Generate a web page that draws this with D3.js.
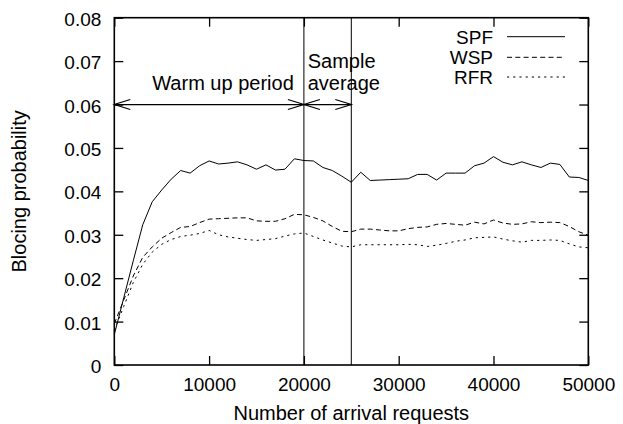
<!DOCTYPE html>
<html>
<head>
<meta charset="utf-8">
<script src="https://cdn.jsdelivr.net/npm/d3@7"></script>
<style>
  body { margin: 0; background: #fff; }
  svg text { font-family: "Liberation Sans", Arial, sans-serif; font-size: 19px; fill: #000; }
  svg text.big { font-size: 20px; }
</style>
</head>
<body>
<div id="chart"></div>
<script>
var svgWidth = 623;
var svgHeight = 424;

// arrival requests (x) and blocking probability per method
var requests = [0, 1000, 2000, 3000, 4000, 5000, 6000, 7000, 8000, 9000,
  10000, 11000, 12000, 13000, 14000, 15000, 16000, 17000, 18000, 19000,
  20000, 21000, 22000, 23000, 24000, 25000, 26000, 27000, 28000, 29000,
  30000, 31000, 32000, 33000, 34000, 35000, 36000, 37000, 38000, 39000,
  40000, 41000, 42000, 43000, 44000, 45000, 46000, 47000, 48000, 49000, 50000];

var spf = [0.0070, 0.0155, 0.0240, 0.0323, 0.0376, 0.0403, 0.0428, 0.0448, 0.0442, 0.0459,
  0.0470, 0.0463, 0.0465, 0.0468, 0.0461, 0.0451, 0.0461, 0.0449, 0.0451, 0.0475,
  0.0471, 0.0470, 0.0455, 0.0448, 0.0435, 0.0421, 0.0444, 0.0425, 0.0426, 0.0427,
  0.0428, 0.0429, 0.0439, 0.0439, 0.0426, 0.0442, 0.0442, 0.0442, 0.0459, 0.0465,
  0.0480, 0.0467, 0.0461, 0.0468, 0.0461, 0.0455, 0.0465, 0.0462, 0.0433, 0.0432, 0.0425];

var wsp = [0.0095, 0.0150, 0.0205, 0.0248, 0.0272, 0.0292, 0.0305, 0.0317, 0.0319, 0.0328,
  0.0336, 0.0337, 0.0338, 0.0339, 0.0339, 0.0332, 0.0331, 0.0331, 0.0337, 0.0347,
  0.0346, 0.0340, 0.0332, 0.0319, 0.0308, 0.0307, 0.0313, 0.0313, 0.0311, 0.0309,
  0.0309, 0.0314, 0.0317, 0.0318, 0.0324, 0.0326, 0.0324, 0.0322, 0.0329, 0.0325,
  0.0334, 0.0327, 0.0324, 0.0325, 0.0330, 0.0328, 0.0329, 0.0328, 0.0319, 0.0307, 0.0299];

var rfr = [0.0080, 0.0135, 0.0190, 0.0232, 0.0260, 0.0278, 0.0289, 0.0296, 0.0299, 0.0303,
  0.0310, 0.0300, 0.0295, 0.0292, 0.0289, 0.0287, 0.0289, 0.0291, 0.0297, 0.0302,
  0.0304, 0.0296, 0.0288, 0.0281, 0.0274, 0.0272, 0.0277, 0.0277, 0.0277, 0.0277,
  0.0277, 0.0278, 0.0277, 0.0273, 0.0276, 0.0280, 0.0285, 0.0288, 0.0293, 0.0294,
  0.0295, 0.0290, 0.0286, 0.0283, 0.0287, 0.0287, 0.0288, 0.0287, 0.0279, 0.0272, 0.0270];

var seriesNames = ["SPF", "WSP", "RFR"];
var xTicks = [0, 10000, 20000, 30000, 40000, 50000];
var yTicks = [0, 0.01, 0.02, 0.03, 0.04, 0.05, 0.06, 0.07, 0.08];
var markers = [20000, 25000];

var plotLeft = 114.3, plotRight = 588.3, plotTop = 17.7, plotBottom = 365;

var svg = d3.select("#chart")
  .append("svg")
  .attr("width", svgWidth)
  .attr("height", svgHeight);

var xScale = d3.scaleLinear().domain([0, 50000]).range([plotLeft, plotRight]);
var yScale = d3.scaleLinear().domain([0, 0.08]).range([plotBottom, plotTop]);

// axes, ticks pointing inwards like gnuplot
var fmtY = d => d === 0 ? "0" : d3.format(".2f")(d);

svg.append("g")
  .attr("transform", `translate(0, ${plotBottom})`)
  .call(d3.axisBottom(xScale).tickValues(xTicks).tickFormat(d3.format("d")).tickSizeInner(-9).tickSizeOuter(0).tickPadding(13));
svg.append("g")
  .attr("transform", `translate(0, ${plotTop})`)
  .call(d3.axisTop(xScale).tickValues(xTicks).tickFormat("").tickSizeInner(-9).tickSizeOuter(0));
svg.append("g")
  .attr("transform", `translate(${plotLeft}, 0)`)
  .attr("class", "yaxis")
  .call(d3.axisLeft(yScale).tickValues(yTicks).tickFormat(fmtY).tickSizeInner(-9).tickSizeOuter(0).tickPadding(13));
svg.append("g")
  .attr("transform", `translate(${plotRight}, 0)`)
  .call(d3.axisRight(yScale).tickValues(yTicks).tickFormat("").tickSizeInner(-9).tickSizeOuter(0));

svg.selectAll(".domain").remove();
svg.selectAll(".tick line").attr("stroke", "#000").attr("stroke-width", 1.3);
svg.selectAll(".tick text").style("font-size", "19px");
svg.selectAll(".yaxis .tick text").attr("dy", "0.4em");

svg.append("rect")
  .attr("x", plotLeft).attr("y", plotTop)
  .attr("width", plotRight - plotLeft).attr("height", plotBottom - plotTop)
  .attr("fill", "none").attr("stroke", "#000").attr("stroke-width", 1.6);

// markers for warm up / sample windows
svg.selectAll(".marker")
  .data(markers)
  .enter()
  .append("line")
  .attr("x1", d => xScale(d)).attr("x2", d => xScale(d))
  .attr("y1", plotTop).attr("y2", plotBottom)
  .attr("stroke", "#000").attr("stroke-width", 1);

var arrows = [[0, 20000], [20000, 25000]];
var ay = yScale(0.06);
arrows.forEach(function(a) {
  var x0 = xScale(a[0]), x1 = xScale(a[1]);
  svg.append("line")
    .attr("x1", x0).attr("x2", x1).attr("y1", ay).attr("y2", ay)
    .attr("stroke", "#000").attr("stroke-width", 1.2);
  svg.append("path")
    .attr("d", `M${x0 + 16},${ay - 5}L${x0},${ay}L${x0 + 16},${ay + 5}M${x1 - 16},${ay - 5}L${x1},${ay}L${x1 - 16},${ay + 5}`)
    .attr("fill", "none").attr("stroke", "#000").attr("stroke-width", 1.2);
});

svg.append("text").attr("class", "big").attr("x", xScale(4000)).attr("y", 89.5).text("Warm up period");
svg.append("text").attr("class", "big").attr("x", xScale(20400)).attr("y", 68.3).text("Sample");
svg.append("text").attr("class", "big").attr("x", xScale(20400)).attr("y", 89.5).text("average");

// data lines
var line = d3.line()
  .x((d, i) => xScale(requests[i]))
  .y(d => yScale(d));

var dashes = [null, "5,3.3", "2.2,4"];
[spf, wsp, rfr].forEach(function(vals, i) {
  svg.append("path")
    .attr("d", line(vals))
    .attr("fill", "none")
    .attr("stroke", "#000")
    .attr("stroke-width", 1)
    .attr("stroke-dasharray", dashes[i]);
});

// legend
var legendY = [36.7, 57.3, 77];
seriesNames.forEach(function(name, i) {
  svg.append("text")
    .attr("x", 493).attr("y", legendY[i] + 6.9)
    .attr("text-anchor", "end")
    .text(name);
  svg.append("line")
    .attr("x1", 507).attr("x2", 565)
    .attr("y1", legendY[i]).attr("y2", legendY[i])
    .attr("stroke", "#000").attr("stroke-width", 1)
    .attr("stroke-dasharray", dashes[i]);
});

// axis titles
svg.append("text")
  .attr("class", "big")
  .attr("x", (plotLeft + plotRight) / 2).attr("y", 420)
  .attr("text-anchor", "middle")
  .text("Number of arrival requests");

svg.append("text")
  .attr("class", "big")
  .attr("transform", `translate(26, ${(plotTop + plotBottom) / 2}) rotate(-90)`)
  .attr("text-anchor", "middle")
  .text("Blocing probability");
</script>
</body>
</html>
